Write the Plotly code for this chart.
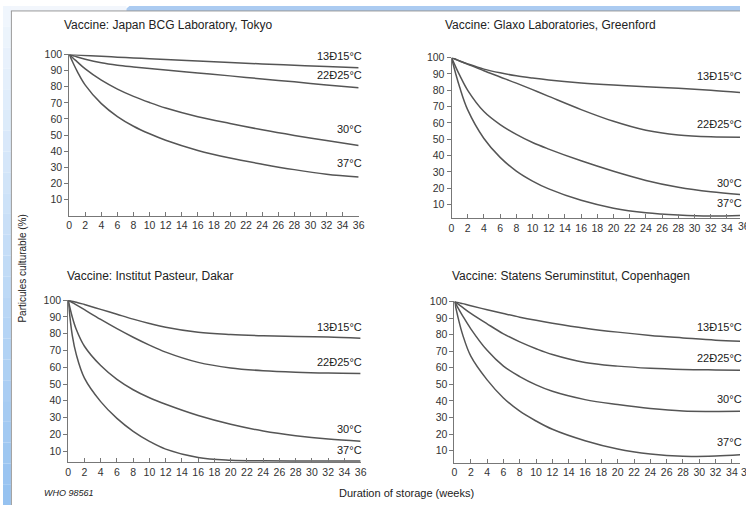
import plotly.graph_objects as go

W, H = 746, 505

# ---------------- data ----------------
weeks = [0, 0.5, 1, 2, 4, 6, 8, 10, 12, 16, 20, 24, 28, 32, 36]
series_labels = ["13Ð15°C", "22Ð25°C", "30°C", "37°C"]

tokyo_13_15 = [100, 99.85, 99.7, 99.4, 98.8, 98.3, 97.8, 97.3, 96.8, 95.9, 95.0, 94.1, 93.3, 92.5, 91.8]
tokyo_22_25 = [100, 99.2, 98.4, 97.0, 94.8, 93.3, 92.2, 91.2, 90.3, 88.5, 86.7, 84.8, 83.0, 81.1, 79.3]
tokyo_30 = [100, 97.6, 95.4, 91.0, 84.0, 78.5, 74.0, 70.2, 66.8, 61.4, 57.2, 53.3, 49.8, 46.6, 43.6]
tokyo_37 = [100, 94.5, 89.5, 81.0, 69.5, 61.5, 55.5, 50.8, 46.8, 40.5, 35.8, 32.0, 28.6, 25.8, 24.0]

glaxo_13_15 = [100, 99.0, 98.0, 96.2, 93.0, 90.7, 88.9, 87.5, 86.3, 84.5, 83.2, 82.2, 81.2, 80.0, 78.5]
glaxo_22_25 = [100, 99.0, 98.0, 96.0, 92.0, 88.2, 84.4, 80.4, 76.3, 68.2, 61.0, 55.5, 52.6, 51.5, 51.3]
glaxo_30 = [100, 94.5, 89.3, 80.0, 67.0, 59.0, 53.0, 48.0, 44.0, 36.8, 30.4, 24.8, 20.6, 17.8, 16.0]
glaxo_37 = [100, 90.5, 82.0, 68.0, 50.5, 38.9, 30.5, 24.4, 19.6, 12.6, 7.8, 5.0, 3.6, 3.0, 3.4]

dakar_13_15 = [100, 99.4, 98.8, 97.4, 94.5, 91.6, 88.7, 86.1, 83.8, 80.8, 79.5, 78.8, 78.4, 78.0, 77.3]
dakar_22_25 = [100, 98.6, 97.2, 94.3, 88.5, 83.0, 77.9, 73.2, 69.0, 62.9, 59.6, 57.9, 57.0, 56.5, 56.3]
dakar_30 = [100, 90.0, 82.5, 72.5, 61.0, 52.8, 46.6, 41.8, 37.9, 31.2, 26.0, 22.0, 19.2, 17.2, 15.9]
dakar_37 = [100, 79.0, 67.5, 53.5, 39.5, 29.5, 21.8, 15.8, 11.2, 6.2, 4.6, 4.2, 4.1, 4.1, 4.1]

copen_13_15 = [100, 99.3, 98.7, 97.4, 95.0, 92.7, 90.5, 88.6, 86.9, 83.9, 81.5, 79.5, 78.0, 76.6, 75.8]
copen_22_25 = [100, 98.2, 96.4, 92.8, 86.5, 80.5, 75.6, 71.5, 68.0, 63.2, 61.0, 59.7, 59.0, 58.7, 58.5]
copen_30 = [100, 95.5, 91.3, 83.5, 70.5, 61.0, 54.7, 49.7, 45.8, 40.8, 37.8, 35.4, 33.9, 33.7, 33.8]
copen_37 = [100, 89.0, 80.0, 67.0, 52.7, 41.8, 33.8, 27.9, 22.9, 16.0, 11.0, 8.0, 6.6, 6.8, 7.8]

panel_titles = ["Vaccine: Japan BCG Laboratory, Tokyo",
                "Vaccine: Glaxo Laboratories, Greenford",
                "Vaccine: Institut Pasteur, Dakar",
                "Vaccine: Statens Seruminstitut, Copenhagen"]
panel_series = [[tokyo_13_15, tokyo_22_25, tokyo_30, tokyo_37],
                [glaxo_13_15, glaxo_22_25, glaxo_30, glaxo_37],
                [dakar_13_15, dakar_22_25, dakar_30, dakar_37],
                [copen_13_15, copen_22_25, copen_30, copen_37]]
x_tickvals = list(range(0, 37, 2))
y_tickvals = list(range(10, 101, 10))

# ---------------- layout geometry (pixels) ----------------
def fx(px):
    return px / W

def fy(py):
    return 1 - py / H

panels = [
    dict(x0=67, x1=360, xr=[0, 36], yb=212.3, yt=49, yr=[0, 100], title=(60, 19),
         labels=[(365, 51), (365, 70), (365, 124), (365, 159)], cut=None),
    dict(x0=454, x1=746, xr=[0, (746 - 454) / 8.2], yb=215, yt=52.3, yr=[1.5, 100], title=(445, 19),
         labels=[(750, 71), (750, 119), (750, 179), (750, 199)], cut=(741.5, 222.5)),
    dict(x0=66, x1=362, xr=[0, 36], yb=461.5, yt=297.7, yr=[3.5, 100], title=(63, 273),
         labels=[(365, 325), (365, 360), (365, 428), (365, 449)], cut=None),
    dict(x0=457, x1=746, xr=[0, (746 - 457) / 8.26], yb=462.3, yt=299, yr=[2.7, 100], title=(452, 273),
         labels=[(750, 325), (750, 356), (750, 398), (750, 441)], cut=(744.5, 472)),
]

FONT = "Liberation Sans, Arial, sans-serif"
LINE = "#555555"
TXT = "#333333"
TICKFONT = dict(size=10.5, color=TXT, family=FONT)

fig = go.Figure()
layout = dict(width=W, height=H, margin=dict(l=0, r=0, t=0, b=0),
              paper_bgcolor="white", plot_bgcolor="rgba(0,0,0,0)",
              showlegend=False, font=dict(family=FONT, color=TXT))
annotations = []
shapes = []

for i, (p, series, title) in enumerate(zip(panels, panel_series, panel_titles)):
    n = "" if i == 0 else str(i + 1)
    for vals in series:
        fig.add_trace(go.Scatter(x=weeks, y=vals, mode="lines",
                                 line=dict(color=LINE, width=1.5, shape="spline", smoothing=1.0),
                                 xaxis="x" + n, yaxis="y" + n, hoverinfo="skip"))
    layout["xaxis" + n] = dict(domain=[fx(p["x0"]), fx(p["x1"])], range=p["xr"], anchor="y" + n,
                               tickvals=x_tickvals, ticks="inside", ticklen=4, tickcolor="#777",
                               showline=True, linecolor="#777", linewidth=1, showgrid=False,
                               zeroline=False, tickfont=TICKFONT)
    layout["yaxis" + n] = dict(domain=[fy(p["yb"]), fy(p["yt"])], range=p["yr"], anchor="x" + n,
                               tickvals=y_tickvals, ticks="outside", ticklen=4, tickcolor="#777",
                               showline=True, linecolor="#777", linewidth=1, showgrid=False,
                               zeroline=False, tickfont=TICKFONT)
    tx, ty = p["title"]
    annotations.append(dict(text=title, x=fx(tx), y=fy(ty), xref="paper", yref="paper",
                            xanchor="left", yanchor="middle", showarrow=False,
                            font=dict(size=12, color="#222")))
    for lab, (lx, ly) in zip(series_labels, p["labels"]):
        annotations.append(dict(text=lab, x=fx(lx), y=fy(ly), xref="paper", yref="paper",
                                xanchor="right", yanchor="middle", showarrow=False,
                                font=dict(size=11, color="#222")))
    # "36" tick label partly cut by the window edge on the right panels
    if p["cut"]:
        cx, cy = p["cut"]
        annotations.append(dict(text=str(x_tickvals[-1]), x=fx(cx), y=fy(cy), xref="paper", yref="paper",
                                xanchor="left", yanchor="middle", showarrow=False, font=TICKFONT))

annotations += [
    dict(text="Particules culturable (%)", x=fx(20), y=fy(266), xref="paper", yref="paper",
         textangle=-90, xanchor="center", yanchor="middle", showarrow=False,
         font=dict(size=10, color="#222")),
    dict(text="Duration of storage (weeks)", x=fx(408), y=fy(493), xref="paper", yref="paper",
         xanchor="center", yanchor="middle", showarrow=False, font=dict(size=11, color="#222")),
    dict(text="<i>WHO 98561</i>", x=fx(39), y=fy(493), xref="paper", yref="paper",
         xanchor="left", yanchor="middle", showarrow=False, font=dict(size=9, color="#222")),
]

# window frame: blue gradient strips on left and top
nb = 24
c0 = (240, 246, 253)
c1 = (150, 194, 240)
for k in range(nb):
    t = k / (nb - 1)
    col = "rgb(%d,%d,%d)" % tuple(round(a + (b - a) * t) for a, b in zip(c0, c1))
    shapes.append(dict(type="rect", xref="paper", yref="paper", x0=0, x1=fx(8),
                       y0=fy(H * (k + 1) / nb), y1=fy(H * k / nb),
                       fillcolor=col, line=dict(width=0), layer="below"))
shapes.append(dict(type="path", xref="paper", yref="paper",
                   path="M %f,%f L %f,%f L %f,%f L %f,%f Z" % (fx(128), fy(0), 1, fy(0), 1, fy(5), fx(122), fy(5)),
                   fillcolor="#abcbf1", line=dict(width=0), layer="below"))
shapes.append(dict(type="rect", xref="paper", yref="paper", x0=fx(8), x1=fx(125), y0=fy(5), y1=fy(0),
                   fillcolor="#f2f6fc", line=dict(width=0), layer="below"))
shapes.append(dict(type="line", xref="paper", yref="paper", x0=fx(8), x1=1, y0=fy(5), y1=fy(5),
                   line=dict(color="#9a9a9a", width=1)))
shapes.append(dict(type="line", xref="paper", yref="paper", x0=fx(8.5), x1=fx(8.5), y0=0, y1=fy(5),
                   line=dict(color="#9a9a9a", width=1)))

layout["annotations"] = annotations
layout["shapes"] = shapes
fig.update_layout(**layout)
fig.write_html("out.html")
